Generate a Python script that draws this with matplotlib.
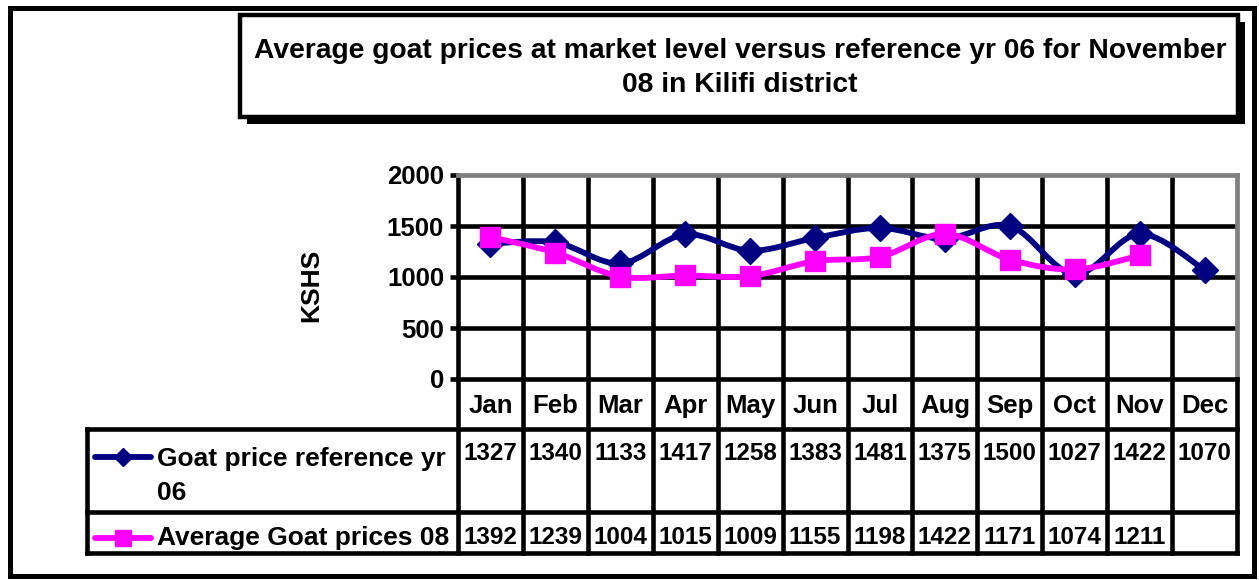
import numpy as np
import matplotlib
matplotlib.use("Agg")
import matplotlib.pyplot as plt
from matplotlib.path import Path
from matplotlib.patches import PathPatch, Rectangle

plt.rcParams['font.family'] = ['Liberation Sans', 'DejaVu Sans']
plt.rcParams['font.weight'] = 'bold'

# data
months = ["Jan", "Feb", "Mar", "Apr", "May", "Jun",
          "Jul", "Aug", "Sep", "Oct", "Nov", "Dec"]
ref_06 = [1327, 1340, 1133, 1417, 1258, 1383, 1481, 1375, 1500, 1027, 1422, 1070]
avg_08 = [1392, 1239, 1004, 1015, 1009, 1155, 1198, 1422, 1171, 1074, 1211]
series_names = ["Goat price reference yr\n06", "Average Goat prices 08"]
title = ("Average goat prices at market level versus reference yr 06 for November\n"
         "08 in Kilifi district")
y_ticks = [0, 500, 1000, 1500, 2000]

NAVY = "#000080"
MAGENTA = "#FF00FF"
GRAY = "#808080"
W, H = 1259, 580
GLW = 3.3  # grid line width in pt


def smooth_path(xs, ys):
    # bezier smoothing like excel "smoothed line"
    xs = np.asarray(xs, float)
    ys = np.asarray(ys, float)
    n = len(xs)
    verts = [(xs[0], ys[0])]
    codes = [Path.MOVETO]
    for i in range(n - 1):
        xa, ya = (xs[i - 1], ys[i - 1]) if i > 0 else (xs[i], ys[i])
        xb, yb = (xs[i + 2], ys[i + 2]) if i + 2 < n else (xs[i + 1], ys[i + 1])
        c1 = (xs[i] + (xs[i + 1] - xa) / 6, ys[i] + (ys[i + 1] - ya) / 6)
        c2 = (xs[i + 1] - (xb - xs[i]) / 6, ys[i + 1] - (yb - ys[i]) / 6)
        verts += [c1, c2, (xs[i + 1], ys[i + 1])]
        codes += [Path.CURVE4] * 3
    return Path(verts, codes)


fig = plt.figure(figsize=(W / 100, H / 100), dpi=100)

# background layer in pixel coordinates
bg = fig.add_axes([0, 0, 1, 1])
bg.set_xlim(0, W)
bg.set_ylim(H, 0)
bg.axis("off")
bg.add_patch(Rectangle((10, 8), 1244, 568, fill=False, edgecolor="black", lw=3.6))
bg.add_patch(Rectangle((247, 22), 998, 102, facecolor="black", edgecolor="none"))
bg.add_patch(Rectangle((240, 15), 998, 102, facecolor="white", edgecolor="black", lw=3.2))
bg.text(740, 68, title, ha="center", va="center", fontsize=20.3,
        fontweight="bold", linespacing=1.45)
bg.text(311, 285, "KSHS", rotation=90, ha="center", va="center",
        fontsize=19, fontweight="bold")

# plot area
left, right, top, bottom = 458, 1237, 175, 379
ax = fig.add_axes([left / W, 1 - bottom / H, (right - left) / W, (bottom - top) / H])
x = np.arange(len(months))
ax.set_xlim(-0.5, len(months) - 0.5)
ax.set_ylim(0, 2000)
ax.set_yticks(y_ticks)
ax.set_yticklabels([str(v) for v in y_ticks], fontsize=18.5, fontweight="bold")
ax.set_xticks([])
ax.tick_params(axis="y", length=6, width=GLW, pad=4)
for v in y_ticks[1:-1]:
    ax.axhline(v, color="black", lw=GLW, zorder=1)
for k in range(len(months) - 1):
    ax.axvline(k + 0.5, color="black", lw=GLW, zorder=1)
ax.spines["left"].set_linewidth(GLW)
ax.spines["bottom"].set_linewidth(GLW)
ax.spines["top"].set_color(GRAY)
ax.spines["right"].set_color(GRAY)
ax.spines["top"].set_linewidth(3.4)
ax.spines["right"].set_linewidth(3.4)

ax.add_patch(PathPatch(smooth_path(x, ref_06), fill=False, edgecolor=NAVY,
                       lw=4.2, zorder=3, capstyle="round"))
ax.plot(x, ref_06, ls="none", marker="D", ms=13, color=NAVY, zorder=4)
x08 = x[:len(avg_08)]
ax.add_patch(PathPatch(smooth_path(x08, avg_08), fill=False, edgecolor=MAGENTA,
                       lw=4.2, zorder=5, capstyle="round"))
ax.plot(x08, avg_08, ls="none", marker="s", ms=14, color=MAGENTA, zorder=6)

# data table under the plot
t_bottom = 553
tab = fig.add_axes([left / W, 1 - t_bottom / H, (right - left) / W, (t_bottom - bottom) / H])
tab.set_xlim(-0.5, len(months) - 0.5)
tab.set_ylim(t_bottom, bottom)
tab.axis("off")
col_px = (right - left) / len(months)


def dx(px):
    return -0.5 + (px - left) / col_px


row1_top, row2_top = 429, 512
leg_left = dx(87)
x_end = len(months) - 0.5
for yy in [row1_top, row2_top, t_bottom]:
    tab.plot([leg_left, x_end], [yy, yy], color="black", lw=GLW, clip_on=False,
             solid_capstyle="projecting")
for k in range(len(months) + 1):
    tab.plot([k - 0.5, k - 0.5], [bottom, t_bottom], color="black", lw=GLW,
             clip_on=False, solid_capstyle="projecting")
tab.plot([leg_left, leg_left], [row1_top, t_bottom], color="black", lw=GLW,
         clip_on=False, solid_capstyle="projecting")

for k, m in enumerate(months):
    tab.text(k, 406, m, ha="center", va="center", fontsize=18.5, fontweight="bold")
for k, v in enumerate(ref_06):
    tab.text(k, 454, str(v), ha="center", va="center", fontsize=17.5, fontweight="bold")
for k, v in enumerate(avg_08):
    tab.text(k, 538, str(v), ha="center", va="center", fontsize=17.5, fontweight="bold")

# legend keys inside the table
tab.plot([dx(95), dx(151)], [457, 457], color=NAVY, lw=4.2, clip_on=False,
         solid_capstyle="round")
tab.plot([dx(123)], [457], marker="D", ms=9, color=NAVY, clip_on=False)
tab.text(dx(157), 447, series_names[0], ha="left", va="top", fontsize=19,
         fontweight="bold", linespacing=1.5)
tab.plot([dx(95), dx(151)], [538, 538], color=MAGENTA, lw=4.2, clip_on=False,
         solid_capstyle="round")
tab.plot([dx(123)], [538], marker="s", ms=11.5, color=MAGENTA, clip_on=False)
tab.text(dx(157), 538, series_names[1], ha="left", va="center", fontsize=19,
         fontweight="bold")

fig.savefig("out.png", dpi=100)
